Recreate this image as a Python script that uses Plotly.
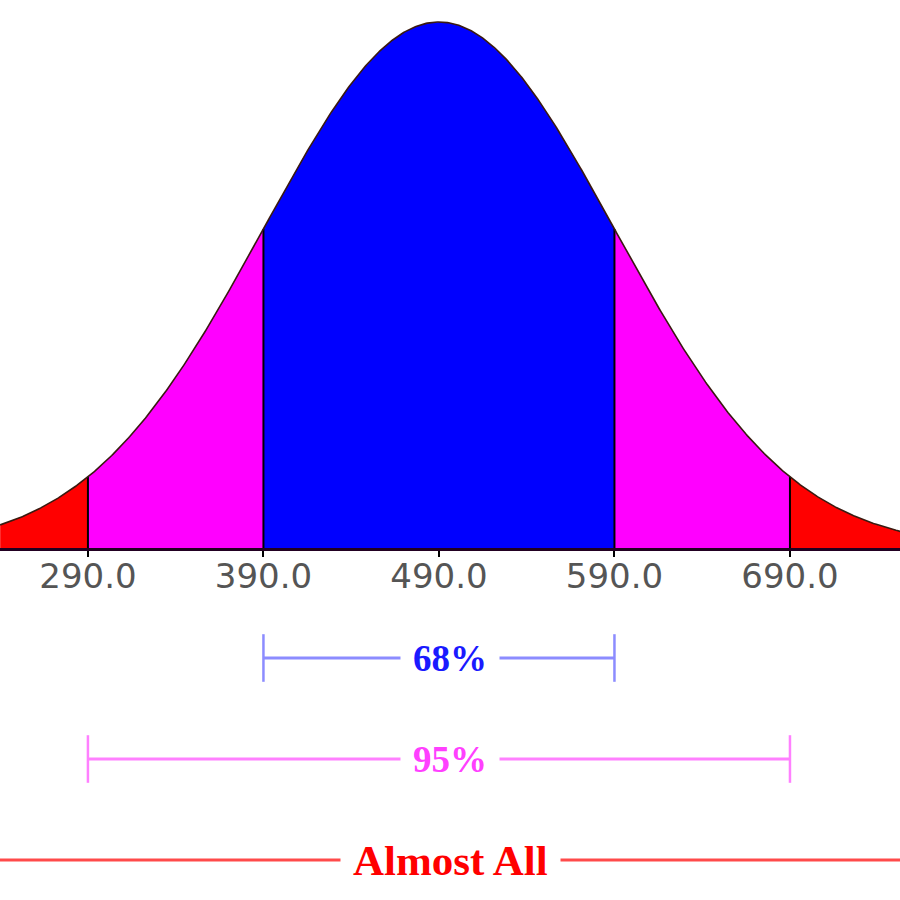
import numpy as np
import plotly.graph_objects as go

# ---- data ----
MEAN = 490.0
SD = 100.0
tick_values = [290, 390, 490, 590, 690]
tick_labels = ["290.0", "390.0", "490.0", "590.0", "690.0"]
band_labels = ["68%", "95%", "Almost All"]
band_k = [1, 2, 3]
band_line_colors = ["#8c8cff", "#ff80ff", "#ff4a4a"]
band_text_colors = ["#1a1aff", "#ff40ff", "#ff0000"]
band_font_sizes = [37, 37, 43]
region_edges = [240, 290, 390, 590, 690, 753]
region_colors = ["#ff0000", "#ff00ff", "#0000ff", "#ff00ff", "#ff0000"]

X_RANGE = [239.9, 752.7]


def pdf(x):
    x = np.asarray(x, dtype=float)
    return np.exp(-0.5 * ((x - MEAN) / SD) ** 2)


fig = go.Figure()

# filled regions
for i, col in enumerate(region_colors):
    xs = np.linspace(region_edges[i], region_edges[i + 1], 200)
    fig.add_trace(go.Scatter(x=xs, y=pdf(xs), mode="lines", fill="tozeroy",
                             fillcolor=col, line=dict(width=0, color=col),
                             hoverinfo="skip", showlegend=False,
                             xaxis="x", yaxis="y"))

# vertical dividers
vx, vy = [], []
for e in region_edges[1:-1]:
    vx += [e, e, None]
    vy += [0, float(pdf(e)), None]
fig.add_trace(go.Scatter(x=vx, y=vy, mode="lines",
                         line=dict(color="black", width=2),
                         hoverinfo="skip", showlegend=False, xaxis="x", yaxis="y"))

# outline
xs = np.linspace(region_edges[0], region_edges[-1], 800)
fig.add_trace(go.Scatter(x=xs, y=pdf(xs), mode="lines",
                         line=dict(color="#3a1a10", width=1.6),
                         hoverinfo="skip", showlegend=False, xaxis="x", yaxis="y"))

# bands
for row, (lab, k, lc, tc, fs) in enumerate(zip(band_labels, band_k, band_line_colors,
                                              band_text_colors, band_font_sizes), start=1):
    fig.add_trace(go.Scatter(x=[MEAN - k * SD, MEAN + k * SD], y=[row, row],
                             mode="lines+markers",
                             line=dict(color=lc, width=3),
                             marker=dict(symbol="line-ns-open", size=34,
                                         line=dict(color=lc, width=2.5)),
                             hoverinfo="skip", showlegend=False,
                             xaxis="x", yaxis="y2"))
    fig.add_annotation(x=0.5, xref="paper", y=row, yref="y2",
                       text="<b>" + lab + "</b>", showarrow=False,
                       font=dict(family="Liberation Serif", size=fs, color=tc),
                       bgcolor="white", borderpad=12, xanchor="center", yanchor="middle")

fig.update_layout(
    width=900, height=900,
    margin=dict(l=0, r=0, t=0, b=0),
    paper_bgcolor="white", plot_bgcolor="white",
    xaxis=dict(range=X_RANGE, domain=[0, 1], anchor="y",
               tickvals=tick_values, ticktext=tick_labels,
               ticks="outside", ticklen=6, tickwidth=2, tickcolor="black",
               tickfont=dict(family="DejaVu Sans", size=34, color="#555555"),
               ticklabelstandoff=-10,
               showline=True, linecolor="#220022", linewidth=3,
               showgrid=False, zeroline=False),
    yaxis=dict(range=[0, 1.0418], domain=[0.3911, 1], visible=False,
               showgrid=False, zeroline=False),
    yaxis2=dict(range=[3.396, -0.089], domain=[0, 0.3911], visible=False,
                showgrid=False, zeroline=False, anchor="x"),
)

fig.write_html("out.html", config={"displayModeBar": False},
               post_script="document.body.style.margin='0';")
